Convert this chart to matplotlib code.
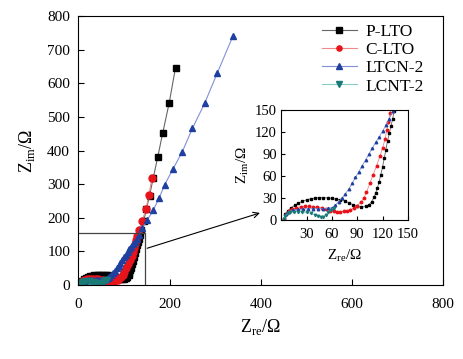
import matplotlib
matplotlib.use('Agg')
import matplotlib.pyplot as plt

plt.rcParams['font.family'] = ['Liberation Serif', 'DejaVu Serif']
plt.rcParams['mathtext.fontset'] = 'custom'
plt.rcParams['mathtext.rm'] = 'Liberation Serif'

# P-LTO
plto_x = [3, 5, 8, 12, 16, 20, 25, 30, 35, 40, 45, 50, 55, 60, 65, 70, 75, 80, 85, 90,
          95, 100, 104, 107, 110, 112, 114, 116, 118, 120, 122, 124, 126, 128, 130, 132,
          134, 138, 143, 149, 156, 164, 174, 185, 199, 213]
plto_y = [2, 8, 13, 17, 20, 23, 25.5, 27.5, 29, 30, 30.5, 30.5, 30, 29.5, 28.5, 27.5, 26,
          23.5, 21, 18.5, 17.5, 18.5, 21, 25, 31, 37, 44, 52, 62, 72, 84, 96, 108, 118,
          128, 138, 149, 165, 190, 225, 266, 318, 381, 453, 541, 647]
# C-LTO
clto_x = [3, 6, 9, 13, 18, 23, 28, 33, 38, 43, 48, 53, 58, 62, 66, 70, 74, 78, 82, 86,
          90, 94, 98, 101, 105, 109, 113, 117, 120, 123, 125, 127, 129, 133, 140, 148,
          155, 161]
clto_y = [2, 8, 12, 15, 17, 18, 18.5, 18.5, 18, 17.5, 16.5, 15, 13, 12, 11.5, 11.5, 11.8,
          12.5, 14, 16, 19.5, 24, 30, 38, 50, 62, 74, 87, 98, 110, 122, 134, 146, 164,
          190, 225, 268, 318]
# LTCN-2
ltcn_x = [3, 6, 9, 14, 20, 26, 32, 38, 44, 50, 55, 60, 64, 68, 72, 76, 80, 84, 88, 92,
          96, 100, 104, 108, 112, 116, 120, 124, 128, 132, 140, 151, 164, 177, 189, 207,
          228, 250, 277, 305, 339]
ltcn_y = [2, 8, 11.5, 13.5, 14.5, 15, 15.5, 15.5, 15.5, 15.5, 15.8, 17, 20, 25, 30, 36,
          42, 50, 58, 66, 74, 82, 90, 98, 106, 113, 121, 129, 138, 148, 169, 193, 223,
          258, 298, 344, 397, 466, 541, 632, 741]
# LCNT-2
lcnt_x = [3, 5, 8, 11, 15, 20, 25, 30, 35, 40, 44, 47, 50, 53, 56, 59, 62]
lcnt_y = [2, 6, 9, 10.5, 11.2, 11.5, 11, 10.3, 9, 7, 5, 4, 4.5, 7.5, 11, 14, 16]

series = [
    ('P-LTO', plto_x, plto_y, 's', 'black', '#666666'),
    ('C-LTO', clto_x, clto_y, 'o', '#e8141c', '#f08888'),
    ('LTCN-2', ltcn_x, ltcn_y, '^', '#2040a0', '#8090d8'),
    ('LCNT-2', lcnt_x, lcnt_y, 'v', '#1a7a78', '#88ccc8'),
]

fig = plt.figure(figsize=(4.64, 3.59), dpi=100)
ax = fig.add_axes([0.169, 0.206, 0.786, 0.749])

for name, xs, ys, mk, mc, lc in series:
    ax.plot(xs, ys, color=lc, lw=0.8, marker=mk, ms=5, mfc=mc, mec=mc, label=name)

ax.set_xlim(0, 800)
ax.set_ylim(0, 800)
ax.set_xticks(range(0, 801, 200))
ax.set_yticks(range(0, 801, 100))
ax.tick_params(direction='in', length=4, labelsize=11)
ax.tick_params(axis='x', pad=9)
ax.tick_params(axis='y', pad=6)
ax.set_xlabel(r'Z$_{\rm re}$/Ω', fontsize=13, labelpad=5)
ax.set_ylabel(r'Z$_{\rm im}$/Ω', fontsize=13, labelpad=7)

# zoom box and arrow
ax.plot([0, 145, 145], [155, 155, 0], color='#444444', lw=0.9)
ax.annotate('', xy=(404, 217), xytext=(145, 107),
            arrowprops=dict(arrowstyle='->', color='black', lw=0.8))

leg = ax.legend(loc='upper right', bbox_to_anchor=(0.99, 1.03), frameon=False,
                fontsize=12.5, labelspacing=0.12, handlelength=2.0,
                handletextpad=0.5, markerscale=0.75)

# inset
ins = fig.add_axes([0.606, 0.387, 0.273, 0.307])
for name, xs, ys, mk, mc, lc in series:
    ins.plot(xs, ys, color=lc, lw=0.6, marker=mk, ms=1.8, mfc=mc, mec=mc)
ins.set_xlim(0, 150)
ins.set_ylim(0, 150)
ins.set_xticks(range(0, 151, 30))
ins.set_xticklabels([''] + [str(v) for v in range(30, 151, 30)])
ins.set_yticks(range(0, 151, 30))
ins.tick_params(direction='in', length=3, labelsize=10.5)
ins.tick_params(axis='x', pad=6)
ins.tick_params(axis='y', pad=3)
ins.set_xlabel(r'Z$_{\rm re}$/Ω', fontsize=11, labelpad=4)
ins.set_ylabel(r'Z$_{\rm im}$/Ω', fontsize=11, labelpad=3)

fig.savefig('out.png', dpi=100)
